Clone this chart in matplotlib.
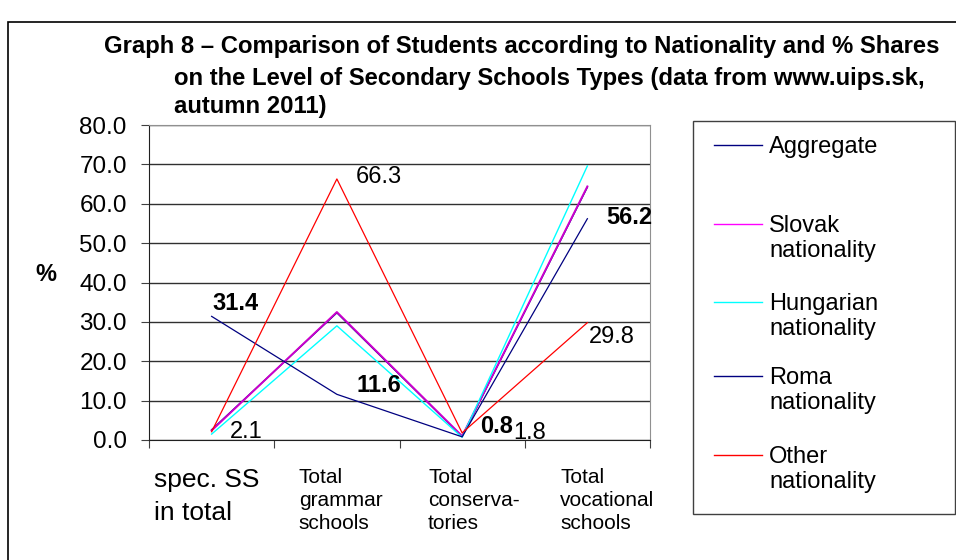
import matplotlib.pyplot as plt
from matplotlib.lines import Line2D
from matplotlib.patches import Rectangle
from matplotlib.transforms import ScaledTranslation

plt.rcParams['font.family'] = ['Liberation Sans', 'DejaVu Sans']

# School types on the x axis
categories = ['spec. SS\nin total', 'Total\ngrammar\nschools',
              'Total\nconserva-\ntories', 'Total\nvocational\nschools']

# % shares per nationality
aggregate = [2.6, 32.3, 0.9, 64.2]
slovak = [2.4, 32.5, 1.0, 64.4]
hungarian = [1.5, 29.0, 0.7, 69.6]
roma = [31.4, 11.6, 0.8, 56.2]
other = [2.1, 66.3, 1.8, 29.8]

series = [
    ('Aggregate', aggregate, '#000080', 1.0),
    ('Slovak\nnationality', slovak, '#cc00cc', 1.4),
    ('Hungarian\nnationality', hungarian, '#00ffff', 1.0),
    ('Roma\nnationality', roma, '#000080', 0.9),
    ('Other\nnationality', other, '#ff0000', 0.9),
]
legend_colors = ['#000080', '#ff00ff', '#00ffff', '#000080', '#ff0000']

W, H = 956, 560
fig = plt.figure(figsize=(W / 100, H / 100), dpi=100)


def fx(x):
    return x / W


def fy(y):
    return 1 - y / H


# outer frame
fig.patches.append(Rectangle((fx(8), fy(600)), fx(1000), fy(22) - fy(600),
                             transform=fig.transFigure, fill=False,
                             edgecolor='black', lw=1.2))

ax = fig.add_axes([fx(149), fy(440), fx(650) - fx(149), fy(125) - fy(440)])
x = list(range(len(categories)))

for name, vals, col, lw in series:
    ax.plot(x, vals, color=col, lw=lw)

ax.set_xlim(-0.5, 3.5)
ax.set_ylim(0, 80)
ax.set_yticks(range(0, 81, 10))
ax.set_yticklabels(['%.1f' % v for v in range(0, 81, 10)], fontsize=17.5)
ax.yaxis.grid(True, color='#303030', lw=1.0)
ax.set_axisbelow(True)
ax.tick_params(axis='y', length=6, width=0.8, pad=10, color='#404040')
for s in ['top', 'right']:
    ax.spines[s].set_color('#909090')
for s in ['left', 'bottom']:
    ax.spines[s].set_color('#202020')

# boundaries get the ticks, centres get the labels
ax.set_xticks([-0.5, 0.5, 1.5, 2.5, 3.5])
ax.set_xticklabels([])
ax.tick_params(axis='x', which='major', length=6, width=0.8, color='#404040')
ax.set_xticks(x, minor=True)
ax.set_xticklabels(categories, minor=True)
ax.tick_params(axis='x', which='minor', length=0, pad=20)
label_dx = [-58, -38, -34, -27]
label_size = [19, 15, 15, 15]
label_spacing = [1.48, 1.26, 1.26, 1.26]
for lab, dx, fs, ls in zip(ax.get_xticklabels(minor=True), label_dx,
                           label_size, label_spacing):
    lab.set_ha('left')
    lab.set_fontsize(fs)
    lab.set_linespacing(ls)
    lab.set_transform(lab.get_transform() +
                      ScaledTranslation(dx / 100, 0, fig.dpi_scale_trans))

ax.set_ylabel('%', fontsize=17, fontweight='bold', rotation=0, labelpad=0,
              ha='center', va='center')
ax.yaxis.set_label_coords(-0.206, 0.524)

# value labels (Roma in bold, Other in regular)
roma_off = [(1, 13), (20, 9), (18, 10), (19, 1)]
other_off = [(18, 0), (19, 2), (51, 0), (1, -14)]
for i, v in enumerate(roma):
    ax.annotate('%.1f' % v, (x[i], v), xytext=roma_off[i],
                textcoords='offset pixels', ha='left', va='center',
                fontsize=17, fontweight='bold')
for i, v in enumerate(other):
    ax.annotate('%.1f' % v, (x[i], v), xytext=other_off[i],
                textcoords='offset pixels', ha='left', va='center',
                fontsize=17)

# title with hanging indent
title_lines = [
    (104, 47, 'Graph 8 \u2013 Comparison of Students according to Nationality and % Shares'),
    (174, 79, 'on the Level of Secondary Schools Types (data from www.uips.sk,'),
    (174, 106, 'autumn 2011)'),
]
for tx, ty, t in title_lines:
    fig.text(fx(tx), fy(ty), t, fontsize=17.2, fontweight='bold',
             ha='left', va='center')

# legend box
fig.patches.append(Rectangle((fx(693), fy(514)), fx(955) - fx(693),
                             fy(121) - fy(514), transform=fig.transFigure,
                             fill=False, edgecolor='#404040', lw=1.0))
legend_y = [145, 224, 302, 376, 455]
for (name, vals, col, lw), lc, ly in zip(series, legend_colors, legend_y):
    fig.lines.append(Line2D([fx(714), fx(762)], [fy(ly), fy(ly)],
                            transform=fig.transFigure, color=lc, lw=1.0))
    fig.text(fx(769), fy(ly - 9), name, fontsize=17, ha='left', va='top',
             linespacing=1.15)

fig.savefig('out.png', dpi=100)
